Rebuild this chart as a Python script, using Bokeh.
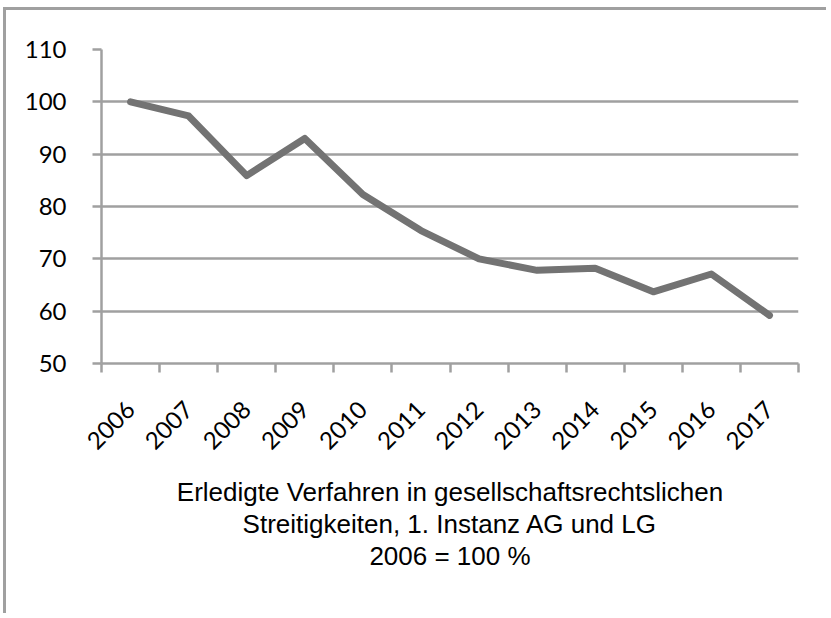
import math
from bokeh.plotting import figure
from bokeh.models import Range1d, FixedTicker, Title
from bokeh.embed import file_html
from bokeh.resources import INLINE

years = ["2006", "2007", "2008", "2009", "2010", "2011", "2012", "2013", "2014", "2015", "2016", "2017"]
values = [100, 97.3, 85.9, 93.0, 82.3, 75.4, 70.0, 67.8, 68.2, 63.7, 67.1, 59.2]
y_ticks = [50, 60, 70, 80, 90, 100, 110]
title_lines = ["Erledigte Verfahren in gesellschaftsrechtslichen",
               "Streitigkeiten, 1. Instanz AG und LG",
               "2006 = 100 %"]

GRAY = "#a0a0a0"
xs = [i + 0.5 for i in range(len(years))]

p = figure(width=823, height=606, output_backend="svg", toolbar_location=None,
           x_range=Range1d(0, len(years)), y_range=Range1d(50, 110),
           min_border_left=95, min_border_right=31, min_border_top=39, min_border_bottom=253)
p.outline_line_color = None
p.background_fill_color = "white"
p.border_fill_color = "white"
p.styles = {"border-top": "3px solid #a0a0a0", "border-left": "3px solid #a0a0a0",
            "margin-left": "3px", "margin-top": "7px"}

p.line(xs, values, line_color="#737373", line_width=7, line_join="round", line_cap="round")

# x axis
xa = p.xaxis[0]
xa.ticker = FixedTicker(ticks=xs, minor_ticks=list(range(len(years) + 1)))
xa.major_label_overrides = {x: y for x, y in zip(xs, years)}
xa.major_tick_line_color = None
xa.minor_tick_out = 9
xa.minor_tick_in = 0
xa.minor_tick_line_color = GRAY
xa.minor_tick_line_width = 2.5
xa.axis_line_color = GRAY
xa.axis_line_width = 2.5
xa.major_label_orientation = math.pi / 4
xa.major_label_text_font = "Lato"
xa.major_label_text_font_size = "24px"
xa.major_label_text_color = "black"
xa.major_label_standoff = 33

# y axis
ya = p.yaxis[0]
ya.ticker = FixedTicker(ticks=y_ticks)
ya.major_tick_out = 9
ya.major_tick_in = 0
ya.major_tick_line_color = GRAY
ya.major_tick_line_width = 2.5
ya.minor_tick_line_color = None
ya.axis_line_color = GRAY
ya.axis_line_width = 2.5
ya.major_label_text_font = "Lato"
ya.major_label_text_font_size = "24px"
ya.major_label_text_color = "black"
ya.major_label_standoff = 26

p.xgrid.grid_line_color = None
p.ygrid.grid_line_color = GRAY
p.ygrid.grid_line_width = 2.5
p.ygrid.ticker = FixedTicker(ticks=y_ticks)

# spacer between axis labels and the caption
p.add_layout(Title(text=" ", text_font_size="1px", standoff=12), "below")
for line in title_lines:
    t = Title(text=line, align="center", text_font="Liberation Sans",
              text_font_size="26px", text_font_style="normal", text_color="black",
              standoff=0)
    p.add_layout(t, "below")

open("out.html", "w").write(file_html(p, INLINE))
